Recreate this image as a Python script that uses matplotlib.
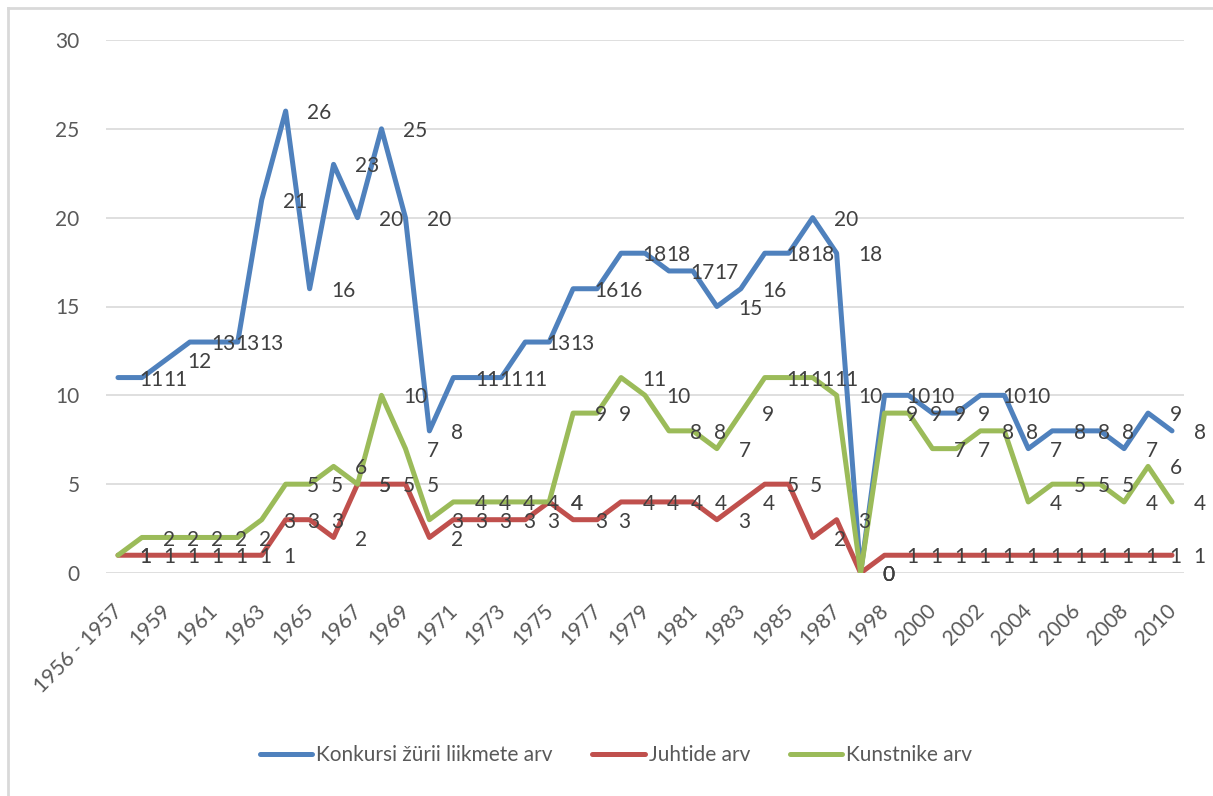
import matplotlib
matplotlib.use("Agg")
import matplotlib.pyplot as plt
from matplotlib import font_manager
from matplotlib.lines import Line2D
from matplotlib.transforms import ScaledTranslation

# ---------------- data ----------------
categories = ["1956 - 1957"] + [str(y) for y in range(1958, 1988)] + ["1988 - 1997"] + \
             [str(y) for y in range(1998, 2011)]

juri = [11, 11, 12, 13, 13, 13, 21, 26, 16, 23, 20, 25, 20, 8, 11, 11, 11, 13, 13, 16,
        16, 18, 18, 17, 17, 15, 16, 18, 18, 20, 18, 0, 10, 10, 9, 9, 10, 10, 7, 8,
        8, 8, 7, 9, 8]
juhid = [1, 1, 1, 1, 1, 1, 1, 3, 3, 2, 5, 5, 5, 2, 3, 3, 3, 3, 4, 3,
         3, 4, 4, 4, 4, 3, 4, 5, 5, 2, 3, 0, 1, 1, 1, 1, 1, 1, 1, 1,
         1, 1, 1, 1, 1]
kunstnikud = [1, 2, 2, 2, 2, 2, 3, 5, 5, 6, 5, 10, 7, 3, 4, 4, 4, 4, 4, 9,
              9, 11, 10, 8, 8, 7, 9, 11, 11, 11, 10, 0, 9, 9, 7, 7, 8, 8, 4, 5,
              5, 5, 4, 6, 4]

series_names = ["Konkursi žürii liikmete arv", "Juhtide arv", "Kunstnike arv"]
series_values = [juri, juhid, kunstnikud]
series_colors = ["#4F81BD", "#C0504D", "#9BBB59"]
y_ticks = [0, 5, 10, 15, 20, 25, 30]

# ---------------- font ----------------
available = {f.name for f in font_manager.fontManager.ttflist}
family = "DejaVu Sans"
for cand in ["Lato", "Open Sans", "Noto Sans"]:
    if cand in available:
        family = cand
        break
plt.rcParams["font.family"] = family

FS = 15
TXT = "#404040"

fig = plt.figure(figsize=(12.13, 7.96), dpi=100)
W, H = 1213, 796
ax = fig.add_axes([106 / W, 1 - 573 / H, (1184 - 106) / W, (573 - 40) / H])

x = list(range(len(categories)))
for name, vals, col in zip(series_names, series_values, series_colors):
    ax.plot(x, vals, color=col, lw=3.6, label=name, solid_capstyle="round",
            solid_joinstyle="round", zorder=3)

for vals in series_values:
    for i, v in zip(x, vals):
        ax.annotate(str(v), (i, v), xytext=(15.5, -1.5), textcoords="offset points",
                    ha="left", va="center", fontsize=FS, color=TXT, zorder=4)

ax.set_xlim(-0.5, len(categories) - 0.5)
ax.set_ylim(0, 30)
ax.set_yticks(y_ticks)
ax.set_yticklabels([str(t) for t in y_ticks], fontsize=FS, color="#595959")
ax.yaxis.grid(True, color="#D9D9D9", lw=1.2)
ax.set_axisbelow(True)
for s in ax.spines.values():
    s.set_visible(False)
ax.tick_params(axis="y", length=0, pad=19)

tick_idx = x[::2]
ax.set_xticks(tick_idx)
ax.set_xticklabels([categories[i] for i in tick_idx], rotation=45, ha="right",
                   va="center", rotation_mode="anchor", fontsize=FS, color="#595959")
ax.tick_params(axis="x", length=0, pad=25)
off = ScaledTranslation(1 / 100, 0, fig.dpi_scale_trans)
for lab in ax.get_xticklabels():
    lab.set_transform(lab.get_transform() + off)

leg = fig.legend(loc="center", bbox_to_anchor=(616 / W, 1 - 755 / H), ncol=3,
                 frameon=False, fontsize=FS, handlelength=2.5, handletextpad=0.2,
                 columnspacing=1.9)
for t in leg.get_texts():
    t.set_color("#595959")

# chart area border (left and top visible)
fig.add_artist(Line2D([8 / W, 8 / W], [0, 1 - 8 / H], transform=fig.transFigure,
                      color="#D9D9D9", lw=2))
fig.add_artist(Line2D([8 / W, 1], [1 - 8 / H, 1 - 8 / H], transform=fig.transFigure,
                      color="#D9D9D9", lw=2))

fig.savefig("out.png", dpi=100)
